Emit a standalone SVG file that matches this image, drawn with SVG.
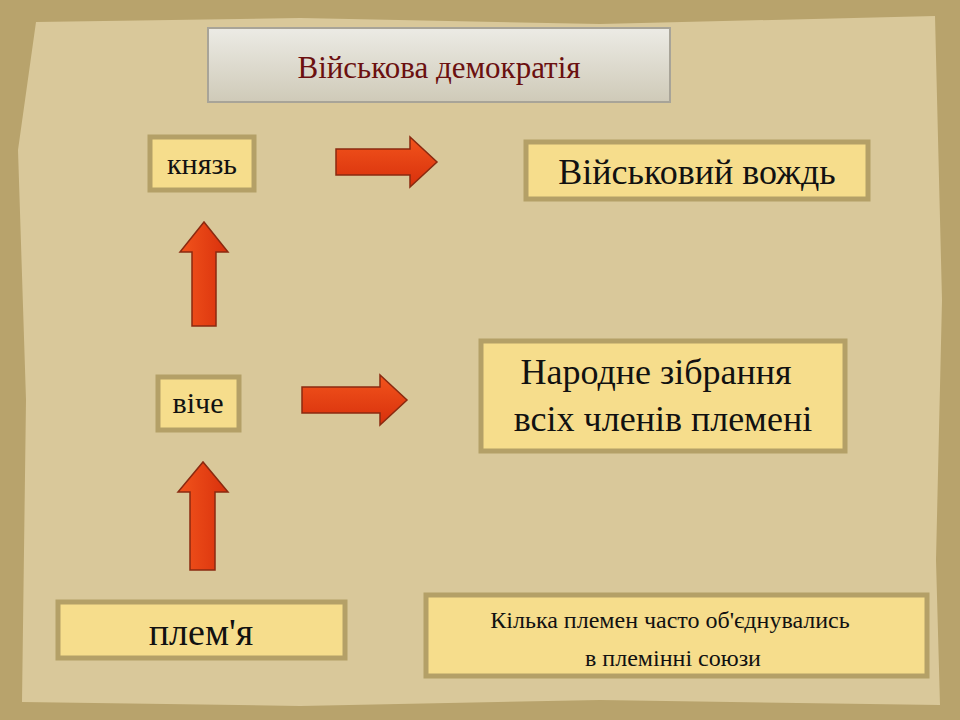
<svg xmlns="http://www.w3.org/2000/svg" width="960" height="720" viewBox="0 0 960 720">
<defs>
<linearGradient id="tg" x1="0" y1="0" x2="0" y2="1"><stop offset="0" stop-color="#ecebe5"/><stop offset="1" stop-color="#cfcab8"/></linearGradient>
<linearGradient id="ag" x1="0" y1="0" x2="0" y2="1"><stop offset="0" stop-color="#f2541c"/><stop offset="1" stop-color="#d8300c"/></linearGradient>
<linearGradient id="agv" x1="0" y1="0" x2="1" y2="0"><stop offset="0" stop-color="#f2541c"/><stop offset="1" stop-color="#d8300c"/></linearGradient>
</defs>
<style>
.box{fill:#f6dd8c;stroke:#b4a067;stroke-width:5}
.t{font-family:'Liberation Serif','DejaVu Serif',serif;fill:#111;text-anchor:middle}
.ar{stroke:#8a2a10;stroke-width:1.5}
</style>
<rect width="960" height="720" fill="#b8a36c"/>
<path d="M36 22 L300 18 L600 24 L935 16 L942 300 L936 560 L940 705 L600 700 L300 706 L22 702 L26 400 L18 150 Z" fill="#d9c89a"/>
<g id="title"><rect x="208" y="28" width="462" height="74" fill="url(#tg)" stroke="#a8a498" stroke-width="2"/><text x="439" y="78" class="t" fill="#6b1010" style="fill:#6b1010" font-family="Liberation Serif, serif" font-size="31">Військова демократія</text></g>
<g id="knyaz"><rect class="box" x="150" y="137" width="104" height="53"/><text class="t" font-family="Liberation Serif, serif" x="202" y="174" font-size="30">князь</text></g>
<g id="vozhd"><rect class="box" x="526" y="142" width="342" height="57"/><text class="t" font-family="Liberation Serif, serif" x="697" y="184" font-size="36">Військовий вождь</text></g>
<g id="viche"><rect class="box" x="158" y="377" width="81" height="53"/><text class="t" font-family="Liberation Serif, serif" x="198" y="413" font-size="30">віче</text></g>
<g id="narodne"><rect class="box" x="481" y="341" width="364" height="110"/><text class="t" font-family="Liberation Serif, serif" x="656" y="384" font-size="36">Народне зібрання</text><text class="t" font-family="Liberation Serif, serif" x="663" y="431" font-size="36">всіх членів племені</text></g>
<g id="plemya"><rect class="box" x="58" y="602" width="287" height="56"/><text class="t" font-family="Liberation Serif, serif" x="201" y="645" font-size="38">плем'я</text></g>
<g id="kilka"><rect class="box" x="426" y="595" width="501" height="81"/><text class="t" font-family="Liberation Serif, serif" x="670" y="628" font-size="24">Кілька племен часто об'єднувались</text><text class="t" font-family="Liberation Serif, serif" x="673" y="666" font-size="24">в племінні союзи</text></g>
<g id="connectors">
<path class="ar" fill="url(#ag)" d="M336 149 H410 V137 L437 162 L410 187 V175 H336 Z"/>
<path class="ar" fill="url(#ag)" d="M302 387 H380 V375 L407 400 L380 425 V413 H302 Z"/>
<path class="ar" fill="url(#agv)" d="M192 326 V252 H180 L204 222 L228 252 H216 V326 Z"/>
<path class="ar" fill="url(#agv)" d="M190 570 V492 H178 L203 462 L228 492 H215 V570 Z"/>
</g>
</svg>
